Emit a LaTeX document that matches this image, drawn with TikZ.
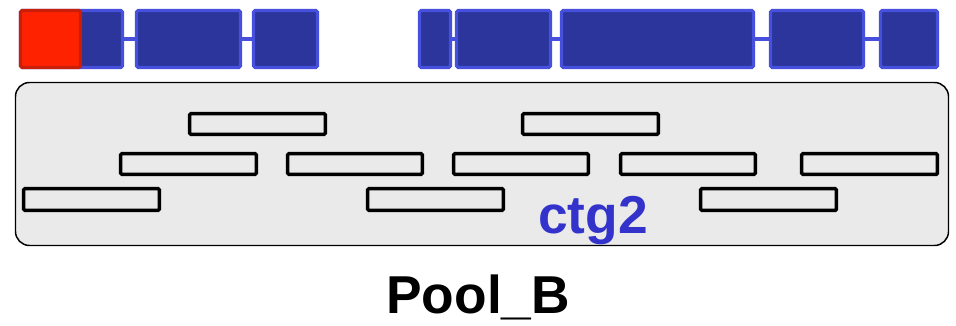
\documentclass[tikz,border=0pt]{standalone}
\usepackage{fontspec}
\setmainfont{Liberation Sans}
\usetikzlibrary{fit}
\definecolor{exonfill}{HTML}{2B359B}
\definecolor{exonedge}{HTML}{4650DC}
\definecolor{hitfill}{HTML}{FF2200}
\definecolor{hitedge}{HTML}{C81E0A}
\definecolor{panelfill}{HTML}{EAEAEA}
\definecolor{labelblue}{HTML}{3333CC}
\tikzset{
  exon/.style={draw=exonedge, fill=exonfill, line width=2.3pt, inner sep=0pt, rounded corners=1.2pt},
  hit/.style={draw=hitedge, fill=hitfill, line width=2.3pt, inner sep=0pt, rounded corners=1.2pt},
  intron/.style={draw=exonedge, line width=2.8pt},
  panel/.style={draw=black, fill=panelfill, line width=1.1pt, inner sep=0pt, rounded corners=10.5pt},
  readbox/.style={draw=black, line width=2.6pt, inner sep=0pt, rounded corners=0.8pt},
  bigtext/.style={font=\bfseries\fontsize{40}{48}\selectfont, inner sep=0pt, anchor=base west}
}
\begin{document}
\begin{tikzpicture}[x=0.75pt, y=-0.75pt]
\useasboundingbox (0,0) rectangle (956,325);

% gene model: exons joined by introns
\node[exon, fit={(20.5,10.5) (122.5,67.5)}] (e1) {};
\node[exon, fit={(136.5,10.5) (240.5,67.5)}] (e2) {};
\node[exon, fit={(253.5,10.5) (317.5,67.5)}] (e3) {};
\node[exon, fit={(419.5,10.5) (450.5,67.5)}] (e4) {};
\node[exon, fit={(456.5,10.5) (550.5,67.5)}] (e5) {};
\node[exon, fit={(561.5,10.5) (753.5,67.5)}] (e6) {};
\node[exon, fit={(770.5,10.5) (863.5,67.5)}] (e7) {};
\node[exon, fit={(880.5,10.5) (937.5,67.5)}] (e8) {};
\node[hit, fit={(20.5,10.5) (80.5,67.5)}] (h1) {};

\draw[intron] (e1.east) -- (e2.west);
\draw[intron] (e2.east) -- (e3.west);
\draw[intron] (e4.east) -- (e5.west);
\draw[intron] (e5.east) -- (e6.west);
\draw[intron] (e6.east) -- (e7.west);
\draw[intron] (e7.east) -- (e8.west);

% contig panel with reads
\node[panel, fit={(15.5,82.5) (948.5,245.5)}] (pool) {};

\node[readbox, fit={(189.7,113.7) (325.3,134.3)}] (r1) {};
\node[readbox, fit={(522.7,113.7) (658.3,134.3)}] (r2) {};
\node[readbox, fit={(120.7,153.7) (256.3,174.3)}] (r3) {};
\node[readbox, fit={(287.7,153.7) (422.3,174.3)}] (r4) {};
\node[readbox, fit={(453.7,153.7) (588.3,174.3)}] (r5) {};
\node[readbox, fit={(620.7,153.7) (755.3,174.3)}] (r6) {};
\node[readbox, fit={(801.7,153.7) (937.3,174.3)}] (r7) {};
\node[readbox, fit={(23.7,188.7) (159.3,210.3)}] (r8) {};
\node[readbox, fit={(367.7,188.7) (503.3,210.3)}] (r9) {};
\node[readbox, fit={(700.7,188.7) (836.3,210.3)}] (r10) {};

\node[bigtext, text=labelblue] (ctg) at (538,233) {ctg2};
\node[bigtext, text=black] (name) at (386,313) {Pool\_B};
\end{tikzpicture}
\end{document}
